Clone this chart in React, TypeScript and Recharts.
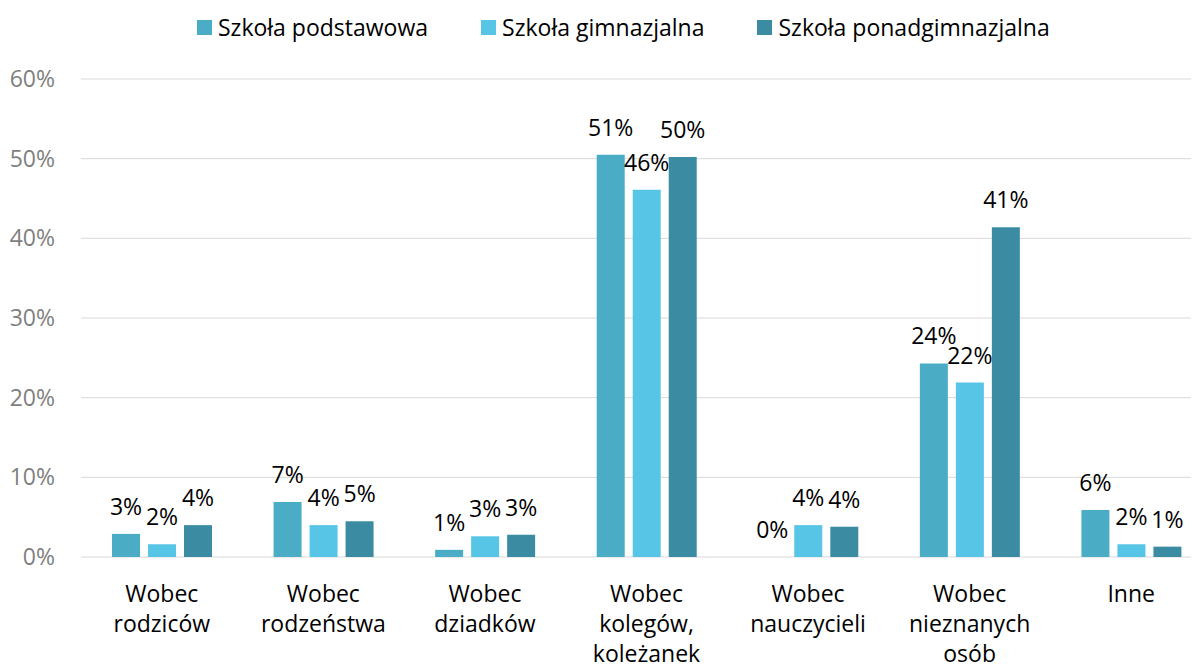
import { BarChart, Bar, XAxis, YAxis, CartesianGrid, LabelList } from "recharts";

const categories = [
  "Wobec rodziców",
  "Wobec rodzeństwa",
  "Wobec dziadków",
  "Wobec kolegów, koleżanek",
  "Wobec nauczycieli",
  "Wobec nieznanych osób",
  "Inne",
];

const podstawowa = [2.9, 6.9, 0.9, 50.5, 0, 24.3, 5.9];
const gimnazjalna = [1.6, 4.0, 2.6, 46.1, 4.0, 21.9, 1.6];
const ponadgimnazjalna = [4.0, 4.5, 2.8, 50.2, 3.8, 41.4, 1.3];

const yTicks = [0, 10, 20, 30, 40, 50, 60];

const series = [
  { key: "podstawowa", name: "Szkoła podstawowa", color: "#4BACC6" },
  { key: "gimnazjalna", name: "Szkoła gimnazjalna", color: "#57C5E6" },
  { key: "ponadgimnazjalna", name: "Szkoła ponadgimnazjalna", color: "#3B8CA3" },
];

const data = categories.map((name, i) => ({
  name,
  podstawowa: podstawowa[i],
  gimnazjalna: gimnazjalna[i],
  ponadgimnazjalna: ponadgimnazjalna[i],
}));

const FONT = "'Open Sans', sans-serif";

function CategoryTick({ x, y, payload }: { x?: number; y?: number; payload?: { value: string } }) {
  const lines = String(payload?.value ?? "").split(" ");
  return (
    <text x={x} y={y} textAnchor="middle" fill="#000" fontSize={23} fontFamily={FONT}>
      {lines.map((line, i) => (
        <tspan key={i} x={x} y={(y ?? 0) + 45 + i * 30}>
          {line}
        </tspan>
      ))}
    </text>
  );
}

function Legend() {
  return (
    <div
      style={{
        position: "absolute",
        top: 13,
        left: 197,
        display: "flex",
        gap: 53,
        fontFamily: FONT,
        fontSize: 23,
        lineHeight: "28px",
        color: "#000",
        zIndex: 2,
      }}
    >
      {series.map((s) => (
        <div key={s.key} style={{ display: "flex", alignItems: "center", gap: 6 }}>
          <div style={{ width: 15, height: 15, backgroundColor: s.color }} />
          <span>{s.name}</span>
        </div>
      ))}
    </div>
  );
}

// zero-value bars still need their "0%" label, so give them a hairline height
const zeroHairline = (value: number) => (value === 0 ? 0.01 : 0);

export default function App() {
  return (
    <div
      style={{
        position: "relative",
        marginLeft: -8,
        marginTop: -8,
        width: 1199,
        height: 668,
        overflow: "hidden",
        background: "#fff",
      }}
    >
      <Legend />
      <BarChart
        width={1230}
        height={668}
        data={data}
        margin={{ top: 79, right: 18, left: 21, bottom: 11 }}
        barCategoryGap={31}
        barGap={8}
      >
        <CartesianGrid vertical={false} stroke="#D9D9D9" strokeWidth={1} />
        <XAxis
          dataKey="name"
          axisLine={false}
          tickLine={false}
          tickSize={0}
          tickMargin={0}
          height={100}
          interval={0}
          tick={<CategoryTick />}
        />
        <YAxis
          domain={[0, 60]}
          ticks={yTicks}
          axisLine={false}
          tickLine={false}
          tickSize={0}
          tickMargin={26}
          width={60}
          tickFormatter={(v: number) => `${v}%`}
          tick={{ fill: "#7F7F7F", fontSize: 23, fontFamily: FONT }}
        />
        {series.map((s) => (
          <Bar
            key={s.key}
            dataKey={s.key}
            name={s.name}
            fill={s.color}
            minPointSize={zeroHairline}
            isAnimationActive={false}
          >
            <LabelList
              dataKey={s.key}
              position="top"
              offset={19}
              formatter={(v: number) => `${Math.round(v)}%`}
              fill="#000"
              fontSize={23}
              fontFamily={FONT}
            />
          </Bar>
        ))}
      </BarChart>
    </div>
  );
}
